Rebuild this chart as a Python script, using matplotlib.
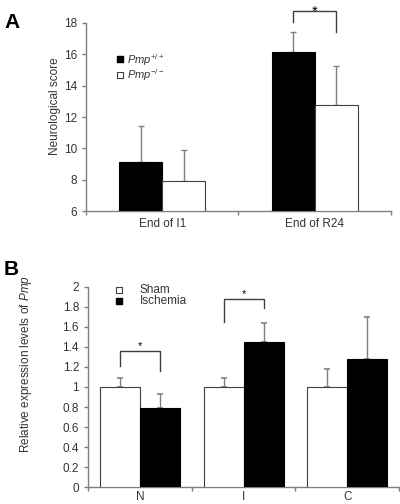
import matplotlib
matplotlib.use("Agg")
import matplotlib.pyplot as plt

plt.rcParams['font.family'] = ['Liberation Sans', 'DejaVu Sans']
plt.rcParams['mathtext.fontset'] = 'custom'
plt.rcParams['mathtext.rm'] = 'Liberation Sans'
plt.rcParams['mathtext.it'] = 'Liberation Sans:italic'

GREY = '#7f7f7f'
TXT = '#333333'

# panel A data
a_groups = ['End of I1', 'End of R24']
a_wt = [9.15, 16.15]
a_wt_err = [2.25, 1.25]
a_ko = [7.9, 12.75]
a_ko_err = [2.0, 2.5]

# panel B data
b_groups = ['N', 'I', 'C']
b_sham = [1.0, 1.0, 1.0]
b_sham_err = [0.09, 0.09, 0.18]
b_isch = [0.79, 1.45, 1.28]
b_isch_err = [0.14, 0.19, 0.42]


def style_axes(ax, ngroups, pad):
    # only left and bottom spines, grey, ticks at group borders
    for s in ['top', 'right']:
        ax.spines[s].set_visible(False)
    for s in ['left', 'bottom']:
        ax.spines[s].set_color(GREY)
        ax.spines[s].set_linewidth(1)
    ax.set_xlim(0, ngroups)
    ax.set_xticks(range(ngroups + 1))
    ax.set_xticklabels([])
    ax.tick_params(axis='both', which='major', direction='out', length=3,
                   color=GREY, labelsize=8.5, width=1, labelcolor=TXT)
    ax.tick_params(axis='x', which='minor', length=0, labelsize=8.5, pad=pad,
                   labelcolor=TXT)


def bracket(ax, x1, x2, y_top, y1, y2, fs, dy):
    ax.plot([x1, x1, x2, x2], [y1, y_top, y_top, y2], color='#404040', lw=1,
            clip_on=False)
    ax.text((x1 + x2) / 2, y_top + dy, '*', ha='center', va='bottom', fontsize=fs,
            clip_on=False)


fig = plt.figure(figsize=(4, 5.04), dpi=100)

# ---- panel A
axA = fig.add_axes([0.215, 0.5813, 0.7625, 0.3731])
w = 0.282
xs = [i + 0.5 for i in range(len(a_groups))]
xa = [x - w / 2 for x in xs]
xb = [x + w / 2 for x in xs]
axA.bar(xa, [v - 6 for v in a_wt], w, bottom=6, color='black', edgecolor='black', lw=0.8, zorder=3)
axA.bar(xb, [v - 6 for v in a_ko], w, bottom=6, color='white', edgecolor='#404040', lw=0.8, zorder=3)
axA.errorbar(xa, a_wt, yerr=[[0] * 2, a_wt_err], fmt='none', ecolor=GREY, elinewidth=1,
             capsize=2, capthick=1, zorder=2)
axA.errorbar(xb, a_ko, yerr=[[0] * 2, a_ko_err], fmt='none', ecolor=GREY, elinewidth=1,
             capsize=2, capthick=1, zorder=2)
axA.set_ylim(6, 18)
axA.set_yticks(range(6, 19, 2))
style_axes(axA, len(a_groups), 5)
axA.set_xticks(xs, minor=True)
axA.set_xticklabels(a_groups, minor=True)
axA.set_ylabel('Neurological score', fontsize=8.5, color=TXT)
axA.yaxis.set_label_coords(-0.082, 0.56)
bracket(axA, xa[1], xb[1], 18.75, 18.05, 17.4, 11, -0.45)

# legend drawn by hand, as in the source figure
axA.scatter([0.22], [15.7], marker='s', s=22, color='black', clip_on=False)
axA.scatter([0.22], [14.7], marker='s', s=22, facecolor='white', edgecolor='#404040', lw=0.8)
axA.text(0.27, 15.65, r'$Pmp^{+/+}$', fontsize=8, va='center', color=TXT)
axA.text(0.27, 14.65, r'$Pmp^{−/−}$', fontsize=8, va='center', color=TXT)
fig.text(0.012, 0.975, 'A', fontsize=15, fontweight='bold', va='top')

# ---- panel B
axB = fig.add_axes([0.22, 0.0337, 0.778, 0.3969])
w = 0.385
xs = [i + 0.5 for i in range(len(b_groups))]
xa = [x - w / 2 for x in xs]
xb = [x + w / 2 for x in xs]
axB.bar(xa, b_sham, w, color='white', edgecolor='#404040', lw=0.8, zorder=3)
axB.bar(xb, b_isch, w, color='black', edgecolor='black', lw=0.8, zorder=3)
axB.errorbar(xa, b_sham, yerr=[[0] * 3, b_sham_err], fmt='none', ecolor=GREY, elinewidth=1,
             capsize=2.5, capthick=1.2, zorder=2)
axB.errorbar(xb, b_isch, yerr=[[0] * 3, b_isch_err], fmt='none', ecolor=GREY, elinewidth=1,
             capsize=2.5, capthick=1.2, zorder=2)
axB.set_ylim(0, 2)
axB.set_yticks([0, 0.2, 0.4, 0.6, 0.8, 1, 1.2, 1.4, 1.6, 1.8, 2])
axB.set_yticklabels(['0', '0.2', '0.4', '0.6', '0.8', '1', '1.2', '1.4', '1.6', '1.8', '2'])
style_axes(axB, len(b_groups), 3)
axB.set_xticks(xs, minor=True)
axB.set_xticklabels(b_groups, minor=True)
axB.set_ylabel(r'Relative expression levels of $Pmp$', fontsize=8.5, color=TXT)
axB.yaxis.set_label_coords(-0.175, 0.615)
bracket(axB, xa[0], xb[0], 1.36, 1.21, 1.16, 8, 0)
bracket(axB, xa[1], xb[1], 1.88, 1.65, 1.79, 8, 0)

axB.scatter([0.3], [1.97], marker='s', s=22, facecolor='white', edgecolor='#404040', lw=0.8, clip_on=False)
axB.scatter([0.3], [1.86], marker='s', s=22, color='black', clip_on=False)
axB.text(0.5, 1.97, 'Sham', fontsize=8.5, va='center', color=TXT)
axB.text(0.5, 1.86, 'Ischemia', fontsize=8.5, va='center', color=TXT)
fig.text(0.01, 0.485, 'B', fontsize=15, fontweight='bold', va='top')

fig.savefig('out.png', dpi=100)
